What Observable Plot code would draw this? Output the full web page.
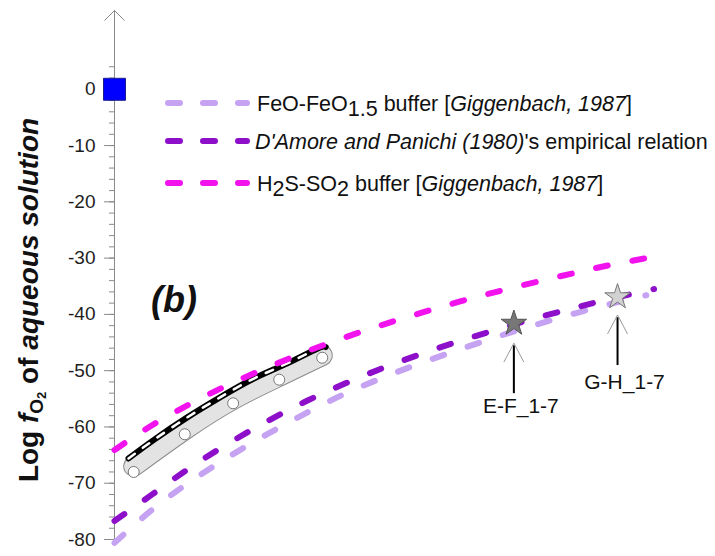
<!DOCTYPE html>
<html><head><meta charset="utf-8">
<script src="https://cdn.jsdelivr.net/npm/d3@7"></script>
<script src="https://cdn.jsdelivr.net/npm/@observablehq/plot@0.6"></script>
<style>body{margin:0;background:#fff} svg{display:block}</style>
</head><body><div id="chart"></div>
<script>
// ---- data (x: temperature-like abscissa, y: log fO2) ----
const feoT = [100,120,140,160,180,200,220,240,260,280,300,320,340,360,377];
const feoLogfO2 = [-80.6,-74.6,-69.6,-65.2,-61.2,-57.5,-54.1,-51.2,-48.6,-46.2,-43.9,-41.8,-39.8,-38.0,-36.6];

const damoreT = [100,120,140,160,180,200,220,240,260,280,300,320,340,360,381];
const damoreLogfO2 = [-76.7,-71.9,-67.1,-62.8,-58.9,-55.4,-52.3,-49.5,-47.0,-44.7,-42.6,-40.6,-38.8,-37.1,-35.5];

const h2sT = [100,120,140,160,180,200,220,240,260,280,300,320,340,360,382];
const h2sLogfO2 = [-64.1,-59.6,-55.8,-52.4,-49.4,-46.6,-44.1,-41.8,-39.7,-37.7,-35.9,-34.2,-32.6,-31.1,-29.7];

const blackT = [107.3,120.5,137.9,155.2,172.6,190,205.6,210];
const blackLogfO2 = [-65.6,-62.3,-58.3,-54.7,-51.4,-48.7,-46.1,-45.8];

const pointT = [110,136.6,161.8,185.8,208.2];
const pointLogfO2 = [-68.0,-61.3,-55.8,-51.6,-47.7];
const bandLogfO2 = [-67.0,-60.5,-55.1,-51.0,-47.3];

const squareT = [100];
const squareLogfO2 = [0];

const sampleNames = ["E-F_1-7","G-H_1-7"];
const sampleT = [308,362];
const sampleLogfO2 = [-41.6,-36.9];

const majorTicks = [-80,-70,-60,-50,-40,-30,-20,-10,0];
const minorTicks = d3.range(-80, 5, 2);

// ---- build tables ----
const rows = (T, V) => T.map((t, i) => ({T: t, v: V[i]}));
const feo = rows(feoT, feoLogfO2);
const damore = rows(damoreT, damoreLogfO2);
const h2s = rows(h2sT, h2sLogfO2);
const black = rows(blackT, blackLogfO2);
const points = rows(pointT, pointLogfO2);
const band = rows(pointT, bandLogfO2);
const square = rows(squareT, squareLogfO2);
const samples = sampleNames.map((n, i) => ({name: n, T: sampleT[i], v: sampleLogfO2[i]}));

const FONT = "'Liberation Sans', Arial, Helvetica, sans-serif";
const C_FEO = "#c6a2f2", C_DAM = "#8d0fc9", C_H2S = "#f212ee";
const AXIS = "#8a8a8a";

const chevron = (w, h) => ({draw(ctx) { ctx.moveTo(-w, h); ctx.lineTo(0, 0); ctx.lineTo(w, h); }});
const dash = {strokeWidth: 6, strokeDasharray: "12,25", strokeLinecap: "round", curve: "natural"};

// annotation geometry (offsets relative to sample star, in log units)
const ann = samples.map((s, i) => ({
  ...s,
  tip: s.v - (i === 0 ? 3.5 : 3.2),
  lineTop: s.v - (i === 0 ? 3.9 : 3.6),
  lineBottom: s.v - (i === 0 ? 12.4 : 12.1),
  labelY: s.v - (i === 0 ? 14.7 : 15.1)
}));

const plot = Plot.plot({
  width: 715, height: 556,
  marginLeft: 114, marginRight: 25, marginTop: 10, marginBottom: 17,
  x: {domain: [100, 400], axis: null},
  y: {domain: [-80, 14]},
  style: {fontFamily: FONT, background: "#fff", overflow: "visible"},
  marks: [
    Plot.ruleX([100], {y1: -80, y2: 14, stroke: AXIS, strokeWidth: 1}),
    Plot.dot([{T: 100, v: 14}], {x: "T", y: "v", symbol: chevron(10, 10), stroke: AXIS, fill: "none", strokeWidth: 1}),
    Plot.axisY(minorTicks, {anchor: "left", tickSize: 5, tickFormat: () => "", stroke: AXIS, label: null}),
    Plot.axisY(majorTicks, {anchor: "left", tickSize: 10, tickPadding: 9, fontSize: 19, tickFormat: d => String(d), stroke: AXIS, fill: "#1e1e1e", label: null}),
    // band + black curve + points
    Plot.line(band, {x: "T", y: "v", stroke: "#8c8c8c", strokeWidth: 21, strokeLinecap: "round", curve: "natural"}),
    Plot.line(band, {x: "T", y: "v", stroke: "#e3e3e3", strokeWidth: 19, strokeLinecap: "round", curve: "natural"}),
    Plot.line(black, {x: "T", y: "v", stroke: "#000", strokeWidth: 6, strokeLinecap: "round", curve: "natural"}),
    Plot.line(black, {x: "T", y: "v", stroke: "#fff", strokeWidth: 2.5, strokeDasharray: "8,10", curve: "natural"}),
    Plot.dot(points, {x: "T", y: "v", r: 5.5, fill: "#fff", stroke: "#777", strokeWidth: 1}),
    // buffers
    Plot.line(feo, {x: "T", y: "v", stroke: C_FEO, ...dash}),
    Plot.line(damore, {x: "T", y: "v", stroke: C_DAM, ...dash}),
    Plot.line(h2s, {x: "T", y: "v", stroke: C_H2S, ...dash}),
    // blue square
    Plot.dot(square, {x: "T", y: "v", symbol: "square", r: 12.4, fill: "#0000ff", stroke: "#1c1c8c", strokeWidth: 1}),
    // sample annotations
    Plot.link(ann, {x1: "T", x2: "T", y1: "lineBottom", y2: "lineTop", stroke: "#000", strokeWidth: 2}),
    Plot.dot(ann, {x: "T", y: "tip", symbol: chevron(10, 19), stroke: "#9a9a9a", fill: "none", strokeWidth: 1}),
    Plot.dot([ann[0]], {x: "T", y: "v", symbol: "star", r: 8, fill: "#777", stroke: "#555", strokeWidth: 1}),
    Plot.dot([ann[1]], {x: "T", y: "v", symbol: "star", r: 8, fill: "#d2d2d2", stroke: "#777", strokeWidth: 1}),
    Plot.text(ann, {x: "T", y: "labelY", text: "name", dx: 7, fontSize: 21, fill: "#111"})
  ]
});

const svg = d3.select(plot);

// y-axis title
const title = svg.append("text")
  .attr("transform", "translate(38,300) rotate(-90)")
  .attr("text-anchor", "middle")
  .attr("font-family", FONT).attr("font-weight", "bold").attr("font-size", 28).attr("fill", "#111");
title.append("tspan").text("Log ");
title.append("tspan").attr("font-style", "italic").text("f");
title.append("tspan").attr("font-size", 19).attr("dy", 5).text("O");
title.append("tspan").attr("font-size", 13).attr("dy", 3).text("2");
title.append("tspan").attr("dy", -8).text(" of ");
title.append("tspan").attr("font-style", "italic").text("aqueous solution");

// panel tag
svg.append("text").attr("x", 151).attr("y", 312).attr("text-anchor", "start")
  .attr("font-family", FONT).attr("font-weight", "bold").attr("font-style", "italic")
  .attr("font-size", 36).attr("fill", "#111").text("(b)");

// legend
const legY = [103, 141, 183];
const legC = [C_FEO, C_DAM, C_H2S];
const lg = svg.append("g").attr("font-family", FONT).attr("font-size", 21.5).attr("fill", "#111").attr("text-anchor", "start");
legY.forEach((y, i) => {
  lg.append("line").attr("x1", 168).attr("x2", 247).attr("y1", y).attr("y2", y)
    .attr("stroke", legC[i]).attr("stroke-width", 6).attr("stroke-dasharray", "12,23").attr("stroke-linecap", "round");
});
const t0 = lg.append("text").attr("x", 257).attr("y", legY[0] + 7.5);
t0.append("tspan").text("FeO-FeO");
t0.append("tspan").attr("dy", 5).text("1.5");
t0.append("tspan").attr("dy", -5).text(" buffer [");
t0.append("tspan").attr("font-style", "italic").text("Giggenbach, 1987");
t0.append("tspan").text("]");
const t1 = lg.append("text").attr("x", 255).attr("y", legY[1] + 7.5);
t1.append("tspan").attr("font-style", "italic").text("D'Amore and Panichi (1980)");
t1.append("tspan").text("'s empirical relation");
const t2 = lg.append("text").attr("x", 257).attr("y", legY[2] + 7.5);
t2.append("tspan").text("H");
t2.append("tspan").attr("dy", 5).text("2");
t2.append("tspan").attr("dy", -5).text("S-SO");
t2.append("tspan").attr("dy", 5).text("2");
t2.append("tspan").attr("dy", -5).text(" buffer [");
t2.append("tspan").attr("font-style", "italic").text("Giggenbach, 1987");
t2.append("tspan").text("]");

document.getElementById("chart").appendChild(plot);
</script>
</body></html>
